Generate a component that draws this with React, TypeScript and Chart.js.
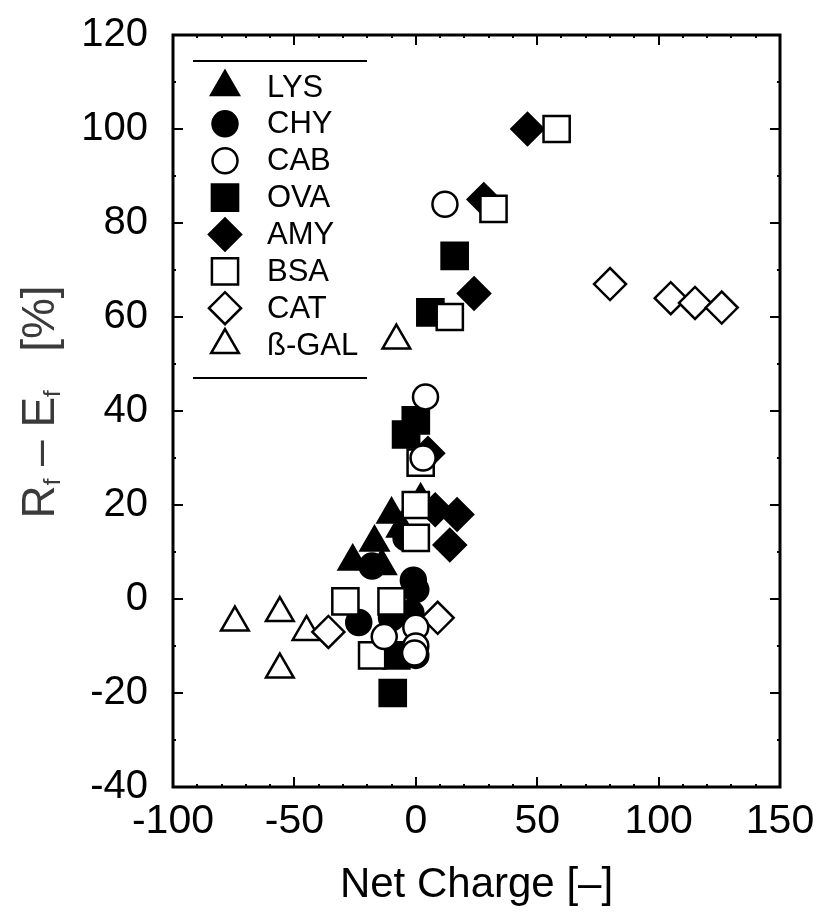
import React, { useEffect, useRef } from 'react';
import { Chart, registerables } from 'chart.js';

Chart.register(...registerables);

// ---------- data (Net Charge [-], Rf - Ef [%]) ----------
const LYS: number[][] = [[2, 21], [-10, 18], [-6, 15], [-17, 12], [-26, 8], [-14, 7]];
const CHY: number[][] = [[-18, 7], [-1, 4], [0, 2], [-23.5, -5], [-10, -4], [-2, -3], [-4, 13], [0, -12]];
const CAB: number[][] = [[12, 84], [4, 43], [3, 30], [-13, -8], [0, -6], [0, -10], [-0.5, -11.5]];
const OVA: number[][] = [[16, 73], [6, 61], [0, 38], [-4, 35], [-8, -12], [-9.5, -20]];
const AMY: number[][] = [[46, 100], [28, 85], [24, 65], [5, 31], [17, 18], [8, 19], [14, 11.5]];
const BSA: number[][] = [[58, 100], [32, 83], [14, 60], [2, 29], [0, 20], [0, 13], [-29, -0.5], [-10, -0.5], [-18, -12]];
const CAT: number[][] = [[80, 67], [105, 64], [115, 63], [126, 62], [9, -4], [-36, -7]];
const GAL: number[][] = [[-74.5, -5], [-56, -3], [-45, -7], [-56, -15], [-8, 55]];

const SERIES_LABELS = ['LYS', 'CHY', 'CAB', 'OVA', 'AMY', 'BSA', 'CAT', 'ß-GAL'];
const SERIES_DATA = [LYS, CHY, CAB, OVA, AMY, BSA, CAT, GAL];

const X_TICKS = [-100, -50, 0, 50, 100, 150];
const Y_TICKS = [-40, -20, 0, 20, 40, 60, 80, 100, 120];
const X_MINOR_STEP = 10;
const Y_MINOR_STEP = 10;

const X_TITLE = 'Net Charge [\u2013]';

// ---------- styles ----------
type Sty = { shape: string; filled: boolean; r: number; order: number };
const STYLES: Sty[] = [
  { shape: 'triangle', filled: true, r: 16, order: 7 },
  { shape: 'circle', filled: true, r: 12.5, order: 4 },
  { shape: 'circle', filled: false, r: 12.5, order: 0 },
  { shape: 'rect', filled: true, r: 18.5, order: 5 },
  { shape: 'rectRot', filled: true, r: 16, order: 6 },
  { shape: 'rect', filled: false, r: 18.5, order: 1 },
  { shape: 'rectRot', filled: false, r: 16, order: 2 },
  { shape: 'triangle', filled: false, r: 16, order: 3 },
];

const FONT = "'Liberation Sans', Arial, sans-serif";

function drawSymbol(ctx: CanvasRenderingContext2D, s: Sty, x: number, y: number) {
  const r = s.r;
  ctx.beginPath();
  if (s.shape === 'circle') {
    ctx.arc(x, y, r, 0, Math.PI * 2);
  } else if (s.shape === 'rect') {
    const h = r * Math.SQRT1_2;
    ctx.rect(x - h, y - h, 2 * h, 2 * h);
  } else if (s.shape === 'rectRot') {
    ctx.moveTo(x - r, y);
    ctx.lineTo(x, y - r);
    ctx.lineTo(x + r, y);
    ctx.lineTo(x, y + r);
    ctx.closePath();
  } else {
    let a = 0;
    ctx.moveTo(x + Math.sin(a) * r, y - Math.cos(a) * r);
    a += (2 * Math.PI) / 3;
    ctx.lineTo(x + Math.sin(a) * r, y - Math.cos(a) * r);
    a += (2 * Math.PI) / 3;
    ctx.lineTo(x + Math.sin(a) * r, y - Math.cos(a) * r);
    ctx.closePath();
  }
  ctx.fillStyle = s.filled ? '#000' : '#fff';
  ctx.fill();
  ctx.lineWidth = 2.5;
  ctx.strokeStyle = '#000';
  ctx.stroke();
}

const framePlugin = {
  id: 'frame',
  afterDatasetsDraw(chart: any) {
    const { ctx, chartArea } = chart;
    const { left, right, top, bottom } = chartArea;
    const xs = chart.scales.x;
    const ys = chart.scales.y;
    ctx.save();
    ctx.strokeStyle = '#000';
    ctx.lineCap = 'butt';
    // ticks
    ctx.lineWidth = 2;
    const xmin = X_TICKS[0], xmax = X_TICKS[X_TICKS.length - 1];
    for (let v = xmin; v <= xmax; v += X_MINOR_STEP) {
      const major = X_TICKS.includes(v);
      const len = major ? 10 : 3;
      const px = Math.round(xs.getPixelForValue(v));
      ctx.beginPath();
      ctx.moveTo(px, bottom);
      ctx.lineTo(px, bottom - len);
      ctx.moveTo(px, top);
      ctx.lineTo(px, top + len);
      ctx.stroke();
    }
    const ymin = Y_TICKS[0], ymax = Y_TICKS[Y_TICKS.length - 1];
    for (let v = ymin; v <= ymax; v += Y_MINOR_STEP) {
      const major = Y_TICKS.includes(v);
      const len = major ? 10 : 3;
      const py = Math.round(ys.getPixelForValue(v));
      ctx.beginPath();
      ctx.moveTo(left, py);
      ctx.lineTo(left + len, py);
      ctx.moveTo(right, py);
      ctx.lineTo(right - len, py);
      ctx.stroke();
    }
    // frame
    ctx.lineWidth = 3;
    ctx.strokeRect(left, top, right - left, bottom - top);

    // legend
    ctx.lineWidth = 2;
    ctx.beginPath();
    ctx.moveTo(193, 61);
    ctx.lineTo(367, 61);
    ctx.moveTo(193, 378);
    ctx.lineTo(367, 378);
    ctx.stroke();
    ctx.font = `31px ${FONT}`;
    ctx.textBaseline = 'middle';
    ctx.textAlign = 'left';
    SERIES_LABELS.forEach((lab, i) => {
      const yy = 87 + i * 36.86;
      drawSymbol(ctx, STYLES[i], 225, yy);
      ctx.fillStyle = '#000';
      ctx.fillText(lab, 267, yy + 1);
    });

    // y title: R_f – E_f  [%]
    ctx.save();
    ctx.translate(38, 402);
    ctx.rotate(-Math.PI / 2);
    ctx.fillStyle = '#3a3a3a';
    const big = `46px ${FONT}`;
    const small = `24px ${FONT}`;
    const parts: [string, boolean][] = [
      ['R', false], ['f', true], [' \u2013 E', false], ['f', true], ['   [%]', false],
    ];
    let total = 0;
    for (const [t, sub] of parts) {
      ctx.font = sub ? small : big;
      total += ctx.measureText(t).width;
    }
    let cx = -total / 2;
    ctx.textBaseline = 'alphabetic';
    for (const [t, sub] of parts) {
      ctx.font = sub ? small : big;
      ctx.fillText(t, cx, sub ? 22 : 16);
      cx += ctx.measureText(t).width;
    }
    ctx.restore();
    ctx.restore();
  },
};

export default function App() {
  const ref = useRef<HTMLCanvasElement | null>(null);
  useEffect(() => {
    if (!ref.current) return;
    const datasets = SERIES_DATA.map((d, i) => {
      const s = STYLES[i];
      return {
        label: SERIES_LABELS[i],
        data: d.map(([x, y]) => ({ x, y })),
        pointStyle: s.shape,
        pointRadius: s.r,
        pointBorderWidth: 2.5,
        pointBorderColor: '#000',
        pointBackgroundColor: s.filled ? '#000' : '#fff',
        borderColor: '#000',
        backgroundColor: s.filled ? '#000' : '#fff',
        showLine: false,
        order: s.order,
        clip: false as any,
      };
    });
    const chart = new Chart(ref.current, {
      type: 'scatter',
      data: { datasets },
      options: {
        animation: false,
        responsive: false,
        devicePixelRatio: 1,
        events: [],
        layout: { padding: { left: 0, top: 35, right: 36, bottom: 0 } },
        plugins: { legend: { display: false }, tooltip: { enabled: false } },
        scales: {
          x: {
            type: 'linear',
            min: X_TICKS[0],
            max: X_TICKS[X_TICKS.length - 1],
            afterBuildTicks: (s: any) => {
              s.ticks = X_TICKS.map((v) => ({ value: v }));
            },
            grid: { display: false, drawTicks: false },
            border: { display: false },
            ticks: {
              color: '#000',
              font: { family: FONT, size: 41 },
              padding: 10,
              maxRotation: 0,
              autoSkip: false,
            },
            title: {
              display: true,
              text: X_TITLE,
              color: '#000',
              font: { family: FONT, size: 42 },
              padding: { top: 0, bottom: 6 },
            },
            afterFit: (s: any) => {
              s.height = 130;
              s.paddingLeft = 0;
              s.paddingRight = 0;
            },
          },
          y: {
            type: 'linear',
            min: Y_TICKS[0],
            max: Y_TICKS[Y_TICKS.length - 1],
            afterBuildTicks: (s: any) => {
              s.ticks = Y_TICKS.map((v) => ({ value: v }));
            },
            grid: { display: false, drawTicks: false },
            border: { display: false },
            ticks: {
              color: '#000',
              font: { family: FONT, size: 40 },
              padding: 25,
              autoSkip: false,
            },
            afterFit: (s: any) => {
              s.width = 173;
              s.paddingTop = 0;
              s.paddingBottom = 0;
            },
          },
        },
      },
      plugins: [framePlugin],
    });
    return () => chart.destroy();
  }, []);
  return (
    <div style={{ position: 'absolute', left: 0, top: 0, width: 816, height: 917, background: '#fff' }}>
      <canvas ref={ref} width={816} height={917} style={{ display: 'block' }} />
    </div>
  );
}
